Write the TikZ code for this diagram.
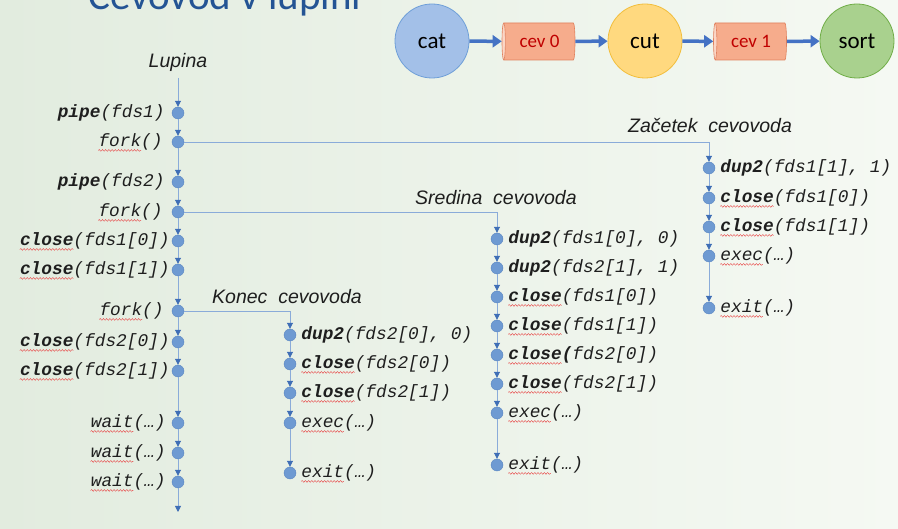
\documentclass[tikz,border=0pt]{standalone}
\usepackage{fontspec}
\setmainfont{Liberation Sans}
\setmonofont{Liberation Mono}
\newfontfamily\calib{Carlito}
\usetikzlibrary{arrows.meta,shapes.geometric,decorations.pathmorphing}

\definecolor{ink}{HTML}{1E1E1E}
\definecolor{flowline}{HTML}{8AABD9}
\definecolor{flowtip}{HTML}{3F6EB6}
\definecolor{dotfill}{HTML}{6E9AD2}
\definecolor{dotline}{HTML}{5A86C2}
\definecolor{bgleft}{HTML}{E2ECDF}
\definecolor{bgright}{HTML}{F5F9F3}
\definecolor{titleblue}{HTML}{245494}
\definecolor{pipeblue}{HTML}{4472C4}
\definecolor{catfill}{HTML}{A3C0E8}
\definecolor{catline}{HTML}{6F9FD8}
\definecolor{cutfill}{HTML}{FFD97F}
\definecolor{cutline}{HTML}{F2BE3C}
\definecolor{sortfill}{HTML}{A9D18E}
\definecolor{sortline}{HTML}{70AD47}
\definecolor{cevbody}{HTML}{F6AC8C}
\definecolor{cevend}{HTML}{FBD6C6}
\definecolor{cevline}{HTML}{E0805C}
\definecolor{cevtext}{HTML}{C00000}
\definecolor{squig}{HTML}{E84848}

% function names in bold
\newcommand\fn[1]{\textbf{#1}}
% wavy mark under the first #2 monospaced characters of label #1
\newcommand\sqline[2]{\draw[squiggle] ([yshift=-3.8pt]#1.base west) -- ++(#2*10.68,0);}

\tikzset{
  x=1pt, y=-1pt,
  dot/.style={circle, fill=dotfill, draw=dotline, line width=0.4pt,
              minimum size=12pt, inner sep=0pt},
  flow/.style={draw=flowline, line width=0.9pt,
               -{Triangle[length=6pt,width=6pt,color=flowtip]}},
  call/.style={font=\ttfamily\itshape\fontsize{17.8}{20}\selectfont,
               text=ink, inner sep=0pt},
  lcall/.style={call, anchor=east},
  rcall/.style={call, anchor=west},
  tag/.style={font=\itshape\fontsize{19.5}{22}\selectfont, text=ink, inner sep=0pt},
  proc/.style={circle, minimum size=74pt, inner sep=0pt, line width=0.8pt,
               font=\calib\fontsize{23}{26}\selectfont, text=black},
  cev/.style={cylinder, shape border rotate=180, aspect=0.27,
              minimum height=73pt, minimum width=37pt, inner sep=0pt,
              cylinder uses custom fill, cylinder body fill=cevbody,
              cylinder end fill=cevend, draw=cevline, line width=0.6pt,
              font=\calib\fontsize{19}{22}\selectfont, text=cevtext},
  pipe/.style={draw=pipeblue, line width=3.5pt,
               -{Triangle[length=9pt,width=12pt]}},
  squiggle/.style={draw=squig, line width=0.4pt,
                   decorate, decoration={snake, amplitude=0.9pt, segment length=3.2pt}},
}

\begin{document}
\begin{tikzpicture}
\useasboundingbox (0,0) rectangle (898,529);
\clip (0,0) rectangle (898,529);
\shade[left color=bgleft, right color=bgright] (0,0) rectangle (898,529);

% slide title, partly above the frame
\node[anchor=base west, inner sep=0pt, text=titleblue,
      font=\calib\fontsize{41}{44}\selectfont] (title) at (88,10) {Cevovod v lupini};

% pipeline overview
\node[proc, fill=catfill, draw=catline] (cat) at (432,41) {cat};
\node[cev] (cev0) at (539.5,41.5) {cev 0};
\node[proc, fill=cutfill, draw=cutline] (cut) at (645,41) {cut};
\node[cev] (cev1) at (751,41.5) {cev 1};
\node[proc, fill=sortfill, draw=sortline] (sort) at (857,41) {sort};
\draw[pipe] (cat) -- (cev0);
\draw[pipe] (cev0) -- (cut);
\draw[pipe] (cut) -- (cev1);
\draw[pipe] (cev1) -- (sort);

% parent shell
\node[tag] (lupina) at (178,62) {Lupina};
\coordinate (mstart) at (178,78);
\coordinate (mend) at (178,512);
\node[dot] (m1) at (178,113) {};
\node[dot] (m2) at (178,142) {};
\node[dot] (m3) at (178,182) {};
\node[dot] (m4) at (178,212) {};
\node[dot] (m5) at (178,241) {};
\node[dot] (m6) at (178,270) {};
\node[dot] (m7) at (178,311) {};
\node[dot] (m8) at (178,342) {};
\node[dot] (m9) at (178,371) {};
\node[dot] (m10) at (178,423) {};
\node[dot] (m11) at (178,453) {};
\node[dot] (m12) at (178,482) {};
\draw[flow] (mstart) -- (m1);
\foreach \a/\b in {m1/m2,m2/m3,m3/m4,m4/m5,m5/m6,m6/m7,m7/m8,m8/m9,m9/m10,m10/m11,m11/m12}
  {\draw[flow] (\a) -- (\b);}
\draw[flow] (m12) -- (mend);

\node[lcall] (tm1) at ([xshift=-7pt]m1.west) {\fn{pipe}(fds1)};
\node[lcall] (tm2) at ([xshift=-9pt]m2.west) {fork()};
\node[lcall] (tm3) at ([xshift=-7pt]m3.west) {\fn{pipe}(fds2)};
\node[lcall] (tm4) at ([xshift=-9pt]m4.west) {fork()};
\node[lcall] (tm5) at ([xshift=-2pt]m5.west) {\fn{close}(fds1[0])};
\node[lcall] (tm6) at ([xshift=-2pt]m6.west) {\fn{close}(fds1[1])};
\node[lcall] (tm7) at ([xshift=-8pt]m7.west) {fork()};
\node[lcall] (tm8) at ([xshift=-2pt]m8.west) {\fn{close}(fds2[0])};
\node[lcall] (tm9) at ([xshift=-2pt]m9.west) {\fn{close}(fds2[1])};
\node[lcall] (tm10) at ([xshift=-6pt]m10.west) {wait(…)};
\node[lcall] (tm11) at ([xshift=-6pt]m11.west) {wait(…)};
\node[lcall] (tm12) at ([xshift=-6pt]m12.west) {wait(…)};
\foreach \t in {tm2,tm4,tm7,tm10,tm11,tm12} {\sqline{\t}{4}}
\foreach \t in {tm5,tm6,tm8,tm9} {\sqline{\t}{5}}

% first child: start of the pipeline
\node[tag, anchor=west] (zac) at (628,126) {Začetek\ \ cevovoda};
\node[dot] (a1) at (709,168) {};
\node[dot] (a2) at (709,198) {};
\node[dot] (a3) at (709,227) {};
\node[dot] (a4) at (709,256) {};
\node[dot] (a5) at (709,308) {};
\draw[flow] (m2) -| (a1);
\foreach \a/\b in {a1/a2,a2/a3,a3/a4,a4/a5}
  {\draw[flow] (\a) -- (\b);}
\node[rcall] (ta1) at ([xshift=5pt]a1.east) {\fn{dup2}(fds1[1], 1)};
\node[rcall] (ta2) at ([xshift=5pt]a2.east) {\fn{close}(fds1[0])};
\node[rcall] (ta3) at ([xshift=5pt]a3.east) {\fn{close}(fds1[1])};
\node[rcall] (ta4) at ([xshift=5pt]a4.east) {exec(…)};
\node[rcall] (ta5) at ([xshift=5pt]a5.east) {exit(…)};
\foreach \t in {ta4,ta5} {\sqline{\t}{4}}
\foreach \t in {ta2,ta3} {\sqline{\t}{5}}

% second child: middle of the pipeline
\node[tag, anchor=west] (sred) at (415,198) {Sredina\ \ cevovoda};
\node[dot] (b1) at (497,239) {};
\node[dot] (b2) at (497,268) {};
\node[dot] (b3) at (497,297) {};
\node[dot] (b4) at (497,326) {};
\node[dot] (b5) at (497,355) {};
\node[dot] (b6) at (497,384) {};
\node[dot] (b7) at (497,413) {};
\node[dot] (b8) at (497,465) {};
\draw[flow] (m4) -| (b1);
\foreach \a/\b in {b1/b2,b2/b3,b3/b4,b4/b5,b5/b6,b6/b7,b7/b8}
  {\draw[flow] (\a) -- (\b);}
\node[rcall] (tb1) at ([xshift=5pt]b1.east) {\fn{dup2}(fds1[0], 0)};
\node[rcall] (tb2) at ([xshift=5pt]b2.east) {\fn{dup2}(fds2[1], 1)};
\node[rcall] (tb3) at ([xshift=5pt]b3.east) {\fn{close}(fds1[0])};
\node[rcall] (tb4) at ([xshift=5pt]b4.east) {\fn{close}(fds1[1])};
\node[rcall] (tb5) at ([xshift=5pt]b5.east) {\fn{close(}fds2[0])};
\node[rcall] (tb6) at ([xshift=5pt]b6.east) {\fn{close}(fds2[1])};
\node[rcall] (tb7) at ([xshift=5pt]b7.east) {exec(…)};
\node[rcall] (tb8) at ([xshift=5pt]b8.east) {exit(…)};
\foreach \t in {tb7,tb8} {\sqline{\t}{4}}
\foreach \t in {tb3,tb4,tb5,tb6} {\sqline{\t}{5}}

% third child: end of the pipeline
\node[tag, anchor=west] (kon) at (212,297) {Konec\ \ cevovoda};
\node[dot] (c1) at (290,335) {};
\node[dot] (c2) at (290,364) {};
\node[dot] (c3) at (290,393) {};
\node[dot] (c4) at (290,423) {};
\node[dot] (c5) at (290,473) {};
\draw[flow] (m7) -| (c1);
\foreach \a/\b in {c1/c2,c2/c3,c3/c4,c4/c5}
  {\draw[flow] (\a) -- (\b);}
\node[rcall] (tc1) at ([xshift=5pt]c1.east) {\fn{dup2}(fds2[0], 0)};
\node[rcall] (tc2) at ([xshift=5pt]c2.east) {\fn{close}(fds2[0])};
\node[rcall] (tc3) at ([xshift=5pt]c3.east) {\fn{close}(fds2[1])};
\node[rcall] (tc4) at ([xshift=5pt]c4.east) {exec(…)};
\node[rcall] (tc5) at ([xshift=5pt]c5.east) {exit(…)};
\foreach \t in {tc4,tc5} {\sqline{\t}{4}}
\foreach \t in {tc2,tc3} {\sqline{\t}{5}}
\end{tikzpicture}
\end{document}
